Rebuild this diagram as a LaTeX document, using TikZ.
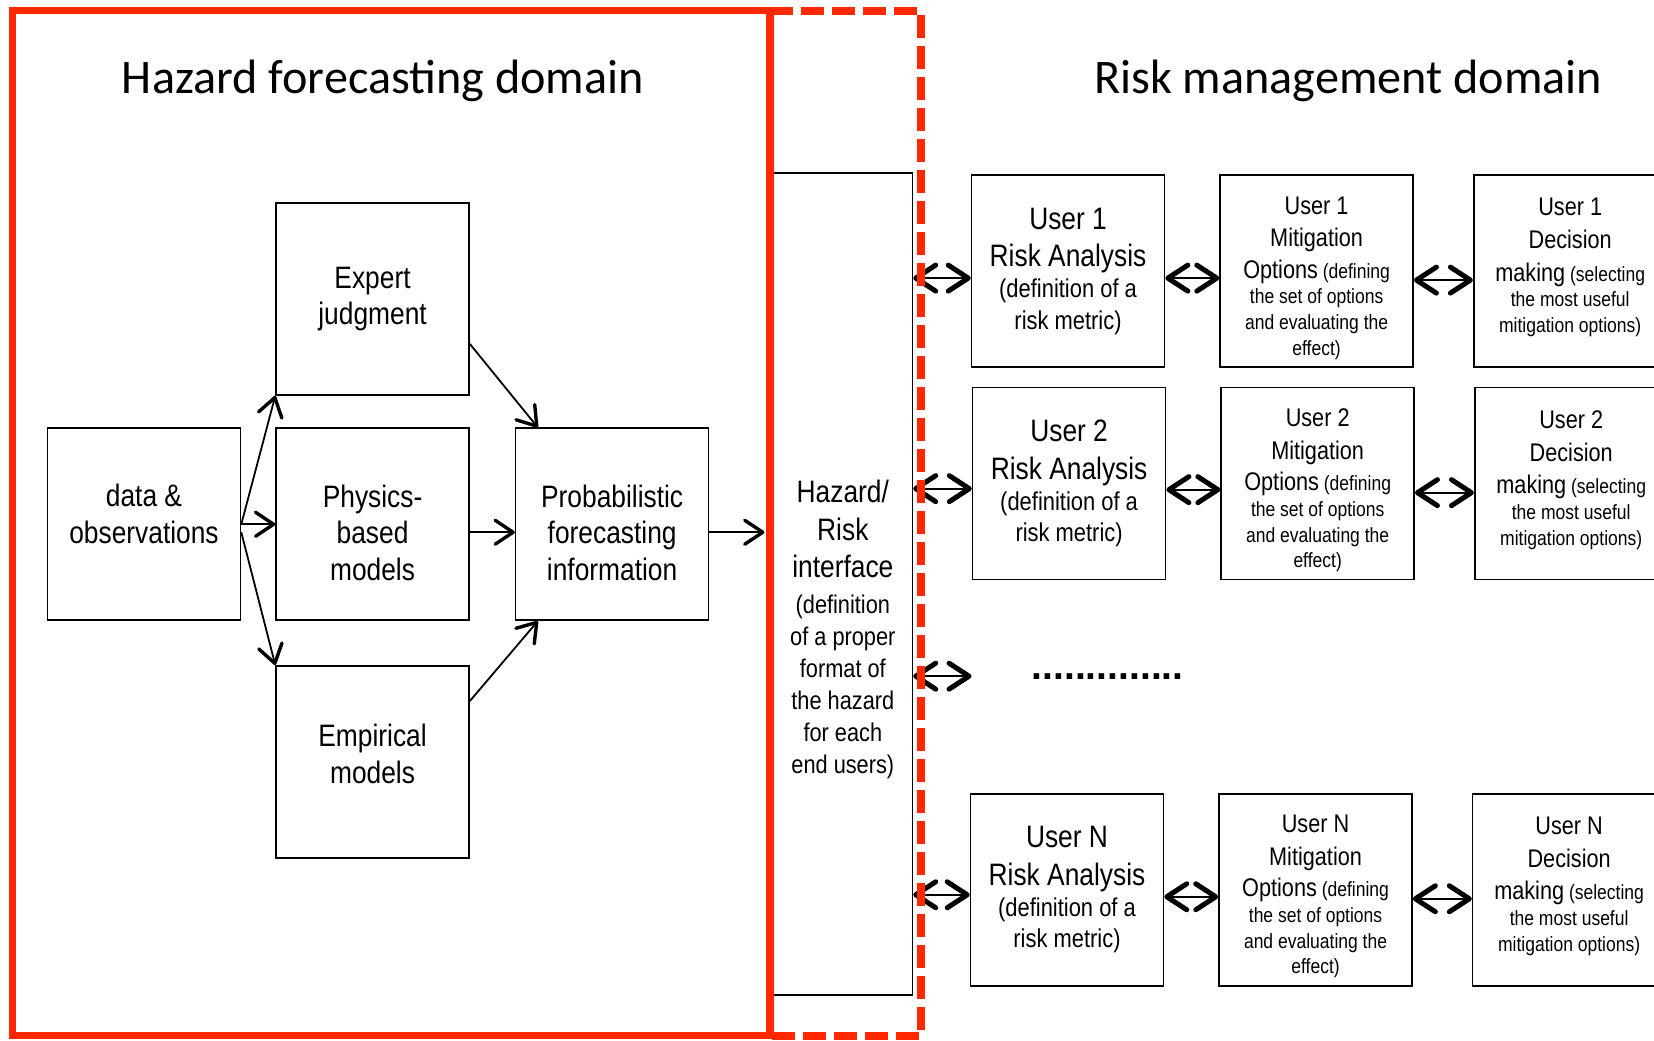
\documentclass[tikz,border=0pt]{standalone}
\usepackage{fontspec}
\newfontfamily\narrowfont{Liberation Sans}[FakeStretch=0.85]
\newfontfamily\titlefont{Carlito}
\newfontfamily\dotfont{Liberation Sans}
\usepackage{xcolor}
\usepackage{tikz}
\usetikzlibrary{positioning, arrows.meta}
\definecolor{framered}{RGB}{255,40,0}
\newcommand{\bigline}{\fontsize{15.5}{18.5}\selectfont}
\newcommand{\midline}{\fontsize{12.75}{16}\selectfont}
% invisible struts that move a text block up or down in its box
\newcommand{\padtop}[1]{\rule{0pt}{#1}}
\newcommand{\padbot}[1]{\rule[-#1]{0pt}{0pt}}
\tikzset{
  domainbox/.style={
    rectangle,
    draw=black,
    line width=0.8pt,
    minimum width=96.5pt,
    minimum height=96pt,
    align=center,
    font=\narrowfont\fontsize{15.5}{18.4}\selectfont,
    inner sep=2pt
  },
  riskbox/.style={
    domainbox,
    font=\narrowfont\fontsize{12.9}{15.6}\selectfont
  },
  userbox/.style={
    domainbox,
    font=\narrowfont\fontsize{10.3}{12.8}\selectfont
  },
  ifacebox/.style={
    rectangle,
    draw=black,
    line width=0.8pt,
    minimum width=69.6pt,
    minimum height=411pt
  },
  flowarrow/.style={
    line width=0.9pt,
    -{Straight Barb[length=9pt, width=12pt, line width=1.7pt, round]}
  },
  linkarrow/.style={
    line width=1pt,
    {Straight Barb[length=10pt, width=13pt, line width=2.5pt, round]}-{Straight Barb[length=10pt, width=13pt, line width=2.5pt, round]}
  },
  domaintitle/.style={
    font=\titlefont\fontsize{24.1}{29}\selectfont,
    inner sep=0pt,
    anchor=base
  },
  frameline/.style={
    draw=framered,
    line width=3.6pt
  }
}

\begin{document}
\begin{tikzpicture}[x=0.5275pt, y=-0.5275pt]
  \useasboundingbox (0,0) rectangle (1568,986);

  % hazard forecasting side
  \node[domaintitle] (hazardtitle) at (363,89) {Hazard forecasting domain};
  \node[domainbox] (data) at (136.5,497) {data \&\\observations\padbot{10.6pt}};
  \node[domainbox, right=17pt of data] (physics) {\padtop{19.7pt}Physics-\\based\\models};
  \node[domainbox, above=15.8pt of physics] (expert) {Expert\\judgment};
  \node[domainbox, below=22pt of physics] (empirical) {Empirical\\models\padbot{8.4pt}};
  \node[domainbox, right=22.5pt of physics] (prob) {\padtop{19.7pt}Probabilistic\\forecasting\\information};

  % interface
  \node[ifacebox] (iface) at (799,553.5) {};
  \node[font=\narrowfont\fontsize{12.8}{16}\selectfont, align=center, inner sep=0pt] (ifacetext) at (799,597)
    {{\bigline Hazard/}\\[2.7pt]{\bigline Risk}\\[2.7pt]{\bigline interface}\\[2pt](definition\\of a proper\\format of\\the hazard\\for each\\end users)};

  % risk management side
  \node[domaintitle] (risktitle) at (1278,89) {Risk management domain};

  \node[riskbox] (risk1) at (1012.5,257)
    {{\bigline User 1}\\[3.2pt]{\bigline Risk Analysis}\\(definition of a\\risk metric)};
  \node[userbox, right=27pt of risk1] (mitig1)
    {\padtop{15.6pt}{\midline User 1}\\[3.5pt]{\midline Mitigation}\\[3pt]{\midline Options} (defining\\the set of options\\and evaluating the\\effect)};
  \node[userbox, right=29.5pt of mitig1] (dec1)
    {{\midline User 1}\\[3.6pt]{\midline Decision}\\[3.6pt]{\midline making} (selecting\\the most useful\\mitigation options)\padbot{5.9pt}};

  \node[riskbox] (risk2) at (1013.5,458.5)
    {{\bigline User 2}\\[3.2pt]{\bigline Risk Analysis}\\(definition of a\\risk metric)};
  \node[userbox, right=27pt of risk2] (mitig2)
    {\padtop{15.6pt}{\midline User 2}\\[3.5pt]{\midline Mitigation}\\[3pt]{\midline Options} (defining\\the set of options\\and evaluating the\\effect)};
  \node[userbox, right=29.5pt of mitig2] (dec2)
    {{\midline User 2}\\[3.6pt]{\midline Decision}\\[3.6pt]{\midline making} (selecting\\the most useful\\mitigation options)\padbot{5.9pt}};

  \node[riskbox] (riskN) at (1011.5,843.5)
    {{\bigline User N}\\[3.2pt]{\bigline Risk Analysis}\\(definition of a\\risk metric)};
  \node[userbox, right=27pt of riskN] (mitigN)
    {\padtop{15.6pt}{\midline User N}\\[3.5pt]{\midline Mitigation}\\[3pt]{\midline Options} (defining\\the set of options\\and evaluating the\\effect)};
  \node[userbox, right=29.5pt of mitigN] (decN)
    {{\midline User N}\\[3.6pt]{\midline Decision}\\[3.6pt]{\midline making} (selecting\\the most useful\\mitigation options)\padbot{5.9pt}};

  \node[font=\dotfont\bfseries\fontsize{19.5}{20}\selectfont, inner sep=0pt, anchor=base] (dots) at (1050,644) {..............};
  \coordinate (gapend) at (921,641);

  % forecasting flow
  \draw[flowarrow] (data.east) -- (expert.south west);
  \draw[flowarrow] (data.east) -- (physics.west);
  \draw[flowarrow] ([yshift=-4pt]data.east) -- (empirical.north west);
  \draw[flowarrow] ([yshift=26pt]expert.south east) -- ([xshift=11.5pt]prob.north west);
  \draw[flowarrow] ([yshift=-4pt]physics.east) -- ([yshift=-4pt]prob.west);
  \draw[flowarrow] ([yshift=-18pt]empirical.north east) -- ([xshift=11.5pt]prob.south west);
  \draw[flowarrow, shorten >=4pt] ([yshift=-4pt]prob.east) -- ([yshift=-4pt]prob.east -| iface.west);

  % links to the users
  \draw[linkarrow] ([yshift=-3.5pt]risk1.west -| iface.east) -- ([yshift=-3.5pt]risk1.west);
  \draw[linkarrow] ([yshift=-3.5pt]risk1.east) -- ([yshift=-3.5pt]mitig1.west);
  \draw[linkarrow] ([yshift=-4.5pt]mitig1.east) -- ([yshift=-4.5pt]dec1.west);
  \draw[linkarrow] ([yshift=-2.5pt]risk2.west -| iface.east) -- ([yshift=-2.5pt]risk2.west);
  \draw[linkarrow] ([yshift=-3pt]risk2.east) -- ([yshift=-3pt]mitig2.west);
  \draw[linkarrow] ([yshift=-4.5pt]mitig2.east) -- ([yshift=-4.5pt]dec2.west);
  \draw[linkarrow] (iface.east |- gapend) -- (gapend);
  \draw[linkarrow] ([yshift=-2.5pt]riskN.west -| iface.east) -- ([yshift=-2.5pt]riskN.west);
  \draw[linkarrow] ([yshift=-3.5pt]riskN.east) -- ([yshift=-3.5pt]mitigN.west);
  \draw[linkarrow] ([yshift=-4.5pt]mitigN.east) -- ([yshift=-4.5pt]decN.west);

  % domain frames
  \draw[frameline, line width=4pt, dash pattern=on 11.5pt off 4pt] (730,10) -- (873,10) -- (873,982) -- (730,982);
  \draw[frameline] (12,10) rectangle (730,982);
\end{tikzpicture}
\end{document}
